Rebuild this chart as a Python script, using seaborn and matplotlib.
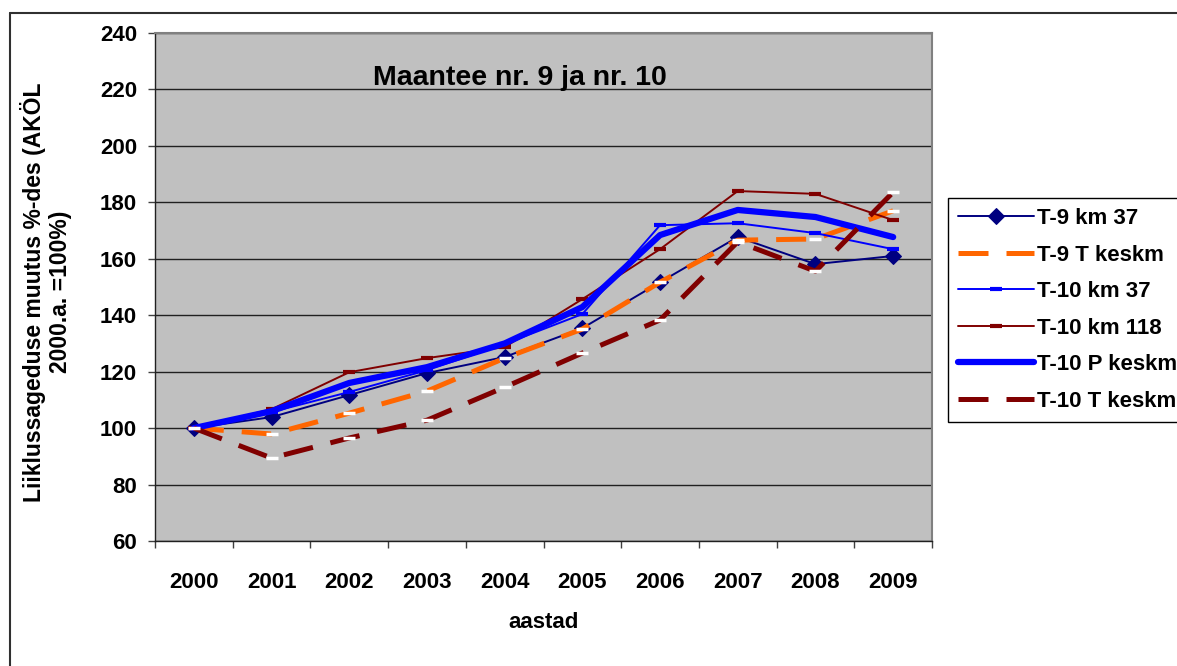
import numpy as np
import pandas as pd
import matplotlib
matplotlib.use("Agg")
import matplotlib.pyplot as plt
from matplotlib.lines import Line2D
import seaborn as sns

# andmed (loetud joonise pealt)
years = ["2000", "2001", "2002", "2003", "2004", "2005", "2006", "2007", "2008", "2009"]
t9_km37 = [100, 103.9, 111.7, 119.5, 125.2, 135.4, 151.7, 167.7, 158.1, 161.0]
t9_t_keskm = [100, 97.9, 105.3, 113.1, 124.8, 135.1, 151.7, 166.6, 167.0, 177.0]
t10_km37 = [100, 105.7, 112.8, 120.5, 129.8, 140.4, 171.9, 172.6, 169.1, 163.4]
t10_km118 = [100, 106.7, 119.8, 124.8, 128.7, 145.7, 163.4, 184.0, 183.0, 173.7]
t10_p_keskm = [100, 106.0, 116.0, 121.6, 130.0, 142.9, 168.4, 177.3, 174.8, 167.7]
t10_t_keskm = [100, 89.4, 96.5, 102.8, 114.5, 126.6, 138.3, 166.0, 155.6, 183.6]
yticks = [60, 80, 100, 120, 140, 160, 180, 200, 220, 240]

sns.set_theme(style="ticks")
plt.rcParams["font.family"] = ["Liberation Sans", "DejaVu Sans"]
plt.rcParams["font.weight"] = "bold"
plt.rcParams["text.color"] = "black"
plt.rcParams["axes.labelcolor"] = "black"
plt.rcParams["xtick.labelcolor"] = "black"
plt.rcParams["ytick.labelcolor"] = "black"

fig = plt.figure(figsize=(11.77, 6.66), dpi=100)
ax = fig.add_axes([155 / 1177, 125 / 666, 777 / 1177, 508 / 666])
ax.set_facecolor("#c0c0c0")

x = np.arange(len(years))
dash = (0, (6, 3.6))

sns.lineplot(x=x, y=t9_km37, ax=ax, color="#000080", lw=1.4, marker="D",
             markersize=8, markeredgecolor="#000080", markerfacecolor="#000080",
             label="T-9 km 37")
sns.lineplot(x=x, y=t9_t_keskm, ax=ax, color="#ff6600", lw=3.6, linestyle=dash,
             marker="_", markersize=8, markeredgewidth=2.5, markeredgecolor="white",
             label="T-9 T keskm")
sns.lineplot(x=x, y=t10_km37, ax=ax, color="#0000ff", lw=1.4, marker="_",
             markersize=8, markeredgewidth=3, markeredgecolor="#0000ff",
             label="T-10 km 37")
sns.lineplot(x=x, y=t10_km118, ax=ax, color="#800000", lw=1.4, marker="_",
             markersize=8, markeredgewidth=3, markeredgecolor="#800000",
             label="T-10 km 118")
sns.lineplot(x=x, y=t10_p_keskm, ax=ax, color="#0000ff", lw=4.5,
             solid_capstyle="round", label="T-10 P keskm")
sns.lineplot(x=x, y=t10_t_keskm, ax=ax, color="#800000", lw=3.6, linestyle=dash,
             marker="_", markersize=8, markeredgewidth=2.5, markeredgecolor="white",
             label="T-10 T keskm")

# teljed
ax.set_xlim(-0.5, len(years) - 0.5)
ax.set_ylim(60, 240)
ax.set_yticks(yticks)
ax.set_yticklabels([str(v) for v in yticks], fontsize=16, fontweight="bold")
ax.set_xticks(x)
ax.set_xticklabels(years, fontsize=16, fontweight="bold")
ax.set_xticks(np.arange(-0.5, len(years)), minor=True)
ax.tick_params(axis="x", which="major", length=0, pad=22)
ax.tick_params(axis="x", which="minor", length=5, width=1, direction="out", color="#404040")
ax.tick_params(axis="y", length=5, width=1, direction="out", pad=8, color="#404040")
ax.yaxis.grid(True, color="#202020", lw=1)
ax.set_axisbelow(True)

for s in ["left", "bottom"]:
    ax.spines[s].set_color("#202020")
    ax.spines[s].set_linewidth(1)
for s in ["top", "right"]:
    ax.spines[s].set_color("#808080")
    ax.spines[s].set_linewidth(1.5)

ax.set_xlabel("aastad", fontsize=16, fontweight="bold", labelpad=14)
ax.set_ylabel("Liiklussageduse muutus %-des (AKÖL\n2000.a. =100%)",
              fontsize=16.5, fontweight="bold", linespacing=1.15)
ax.yaxis.set_label_coords(-0.107, 0.49)

ax.text(0.47, 0.912, "Maantee nr. 9 ja nr. 10", transform=ax.transAxes,
        ha="center", va="center", fontsize=20.5, fontweight="bold")

# legend
if ax.legend_:
    ax.legend_.remove()
handles, labels = ax.get_legend_handles_labels()
leg = fig.legend(handles, labels, loc="upper left",
                 bbox_to_anchor=(948 / 1177, 1 - 198 / 666),
                 prop={"size": 16, "weight": "bold"}, frameon=True,
                 fancybox=False, edgecolor="black", framealpha=1,
                 handlelength=3.4, handletextpad=0.15, labelspacing=0.7,
                 borderpad=0.45, borderaxespad=0)
leg.get_frame().set_linewidth(1)

# välimine raam
fig.add_artist(Line2D([10 / 1177, 1], [1 - 13 / 666, 1 - 13 / 666],
                      transform=fig.transFigure, color="#303030", lw=1.5))
fig.add_artist(Line2D([10 / 1177, 10 / 1177], [0, 1 - 13 / 666],
                      transform=fig.transFigure, color="#303030", lw=1.5))

fig.savefig("out.png", dpi=100)
